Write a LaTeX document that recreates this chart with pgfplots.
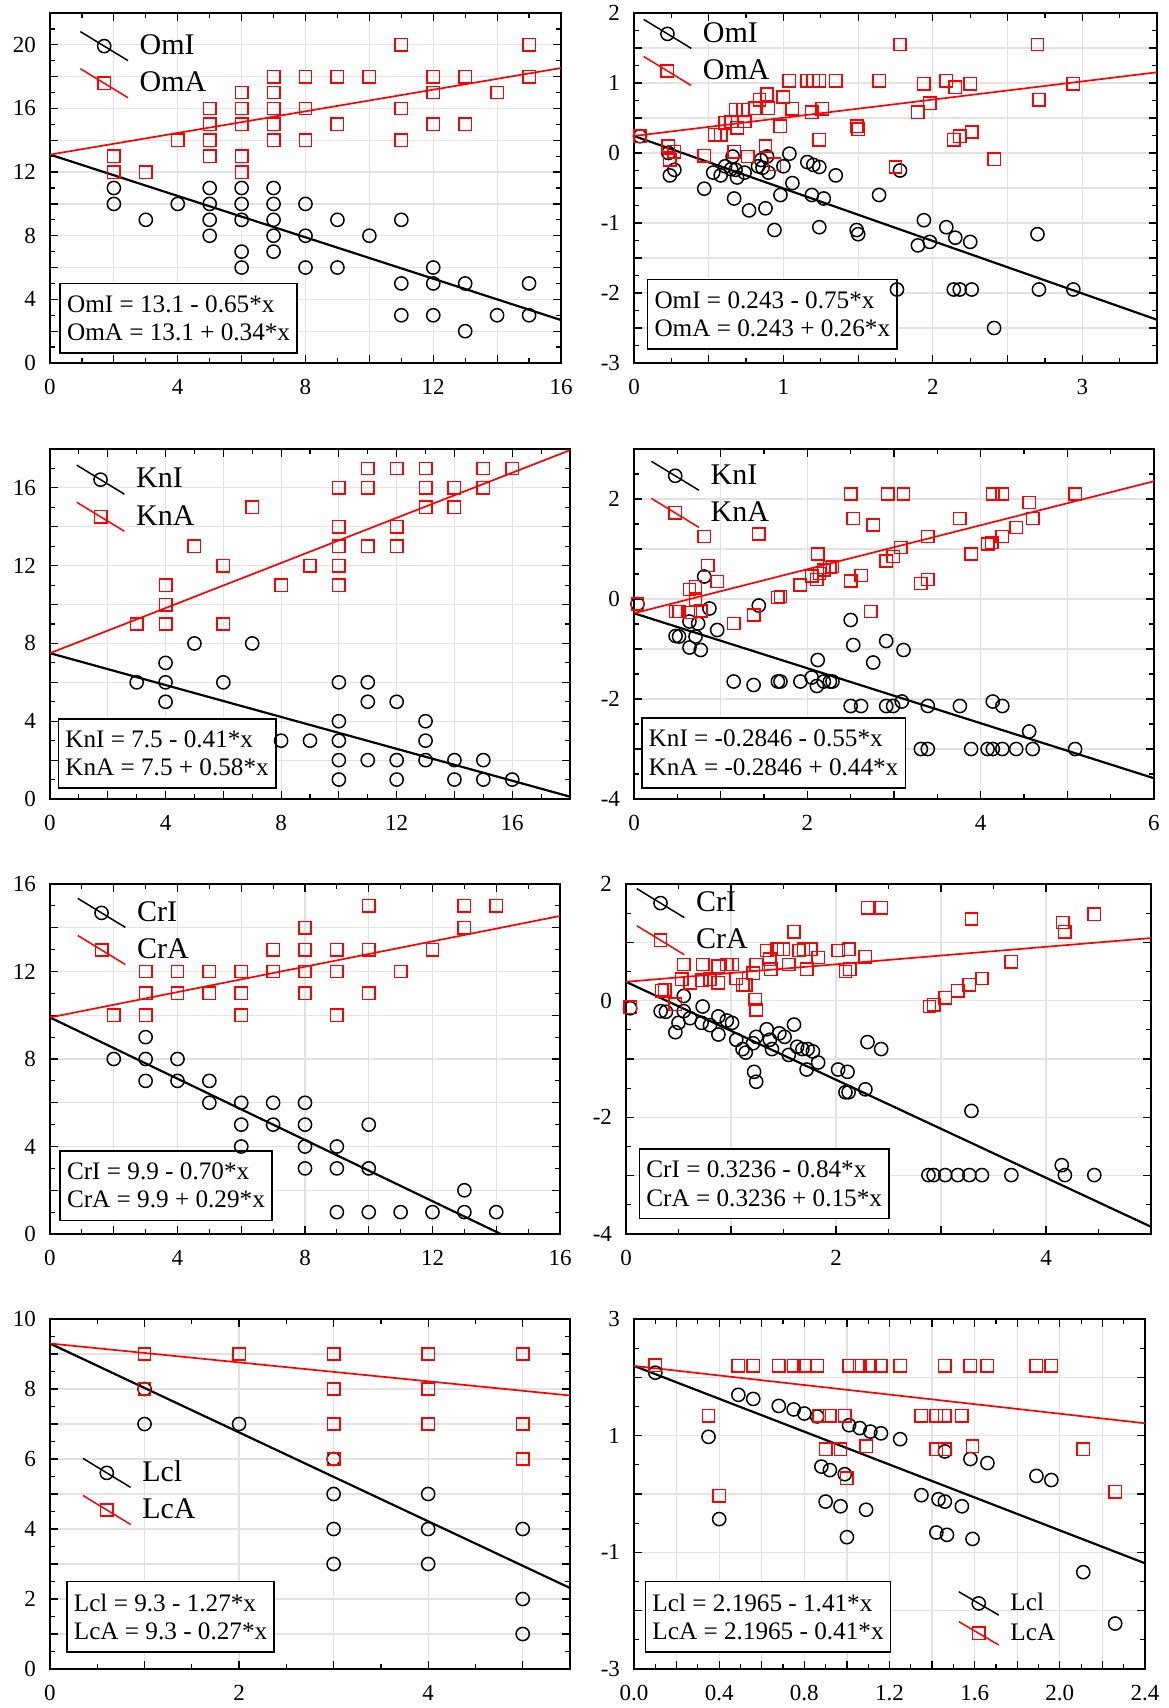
\documentclass[border=0pt]{standalone}
\usepackage{fontspec}
\setmainfont{Liberation Serif}
\usepackage{pgfplots}
\pgfplotsset{compat=1.18}
\definecolor{gridgray}{RGB}{226,226,226}
\tikzset{
  eqbox/.style={draw=black, line width=0.8pt, fill=white, anchor=south west, align=left,
    font=\fontsize{12.6}{14.2}\selectfont, inner xsep=3.5pt, inner ysep=6pt},
}
\pgfplotsset{
  panel/.style={
    scale only axis, height=175pt, anchor=north west,
    axis line style={line width=0.9pt},
    tick align=inside,
    major tick length=4pt, minor tick length=2.5pt,
    every tick/.style={black, line width=0.6pt},
    grid=major, major grid style={gridgray, line width=0.6pt},
    minor tick num=1,
    tick label style={font=\fontsize{11.5}{13}\selectfont},
    xticklabel style={yshift=-4.75pt},
    yticklabel style={xshift=-3.5pt},
    legend cell align=left,
    legend style={draw=none, fill=none, inner sep=0pt, outer sep=0pt,
      anchor=north west, font=\fontsize{15}{17}\selectfont,
      row sep=3.3pt, column sep=4.5pt, nodes={inner sep=1pt, anchor=west}},
    legend image code/.code={\draw[##1, sharp plot, mark repeat=2, mark phase=2] plot coordinates {(0pt,7.25pt) (11.9pt,0pt) (23.8pt,-7.25pt)};},
  },
  smalllegend/.style={
    legend style={font=\fontsize{12.6}{14}\selectfont, row sep=2.5pt},
    legend image code/.code={\draw[##1, sharp plot, mark repeat=2, mark phase=2] plot coordinates {(0pt,5.85pt) (10pt,0pt) (20pt,-5.85pt)};},
  },
  obsI/.style={only marks, mark=o, mark size=3.3pt, black, line width=0.75pt},
  obsA/.style={only marks, mark=square, mark size=3.1pt, red, line width=0.75pt},
  fitI/.style={black, line width=1.1pt, forget plot, no marks},
  fitA/.style={red, line width=0.85pt, forget plot, no marks},
}
\begin{document}
\begin{tikzpicture}
\useasboundingbox (0,0) rectangle (584pt,-854pt);

% ---------------- Panel 1 ----------------
\begin{axis}[panel, at={(25pt,-6.5pt)}, width=255.5pt,
  xmin=0, xmax=16, ymin=0, ymax=22,
  xtick={0,2,...,16}, xticklabels={0,,4,,8,,12,,16},
  ytick={0,2,...,22}, yticklabels={0,,4,,8,,12,,16,,20,},
  legend style={at={(axis description cs:0.058,0.949)}}]
\addplot[obsI] coordinates {(2,11)(2,10)(3,9)(4,10)(5,11)(5,10)(5,9)(5,8)(6,11)(6,10)(6,9)(6,7)(6,6)(7,11)(7,10)(7,9)(7,8)(7,7)(8,10)(8,8)(8,6)(9,9)(9,6)(10,8)(11,9)(11,5)(11,3)(12,6)(12,5)(12,3)(13,5)(13,2)(14,3)(15,5)(15,3)};
\addlegendentry{OmI}
\addplot[obsA] coordinates {(2,13)(2,12)(3,12)(4,14)(5,16)(5,15)(5,14)(5,13)(6,17)(6,16)(6,15)(6,13)(6,12)(7,18)(7,17)(7,16)(7,15)(7,14)(8,18)(8,16)(8,14)(9,18)(9,15)(10,18)(11,20)(11,16)(11,14)(12,18)(12,17)(12,15)(13,18)(13,15)(14,17)(15,20)(15,18)};
\addlegendentry{OmA}
\addplot[fitI] coordinates {(0,13.1)(16,2.7)};
\addplot[fitA] coordinates {(0,13.1)(16,18.54)};
\node[eqbox] at (axis cs:0.29,0.57) {OmI = 13.1 - 0.65*x\\OmA = 13.1 + 0.34*x};
\end{axis}

% ---------------- Panel 2 ----------------
\begin{axis}[panel, at={(317pt,-6.5pt)}, width=261.5pt,
  xmin=0, xmax=3.5, ymin=-3, ymax=2,
  xtick={0,0.5,...,3.5}, xticklabels={0,,1,,2,,3,},
  ytick={-3,-2.5,...,2}, yticklabels={-3,,-2,,-1,,0,,1,,2},
  legend style={at={(axis description cs:0.017,0.984)}}]
\addplot[obsI] coordinates {(0.04,0.24)(0.23,0.0)(0.24,-0.32)(0.27,-0.24)(0.47,-0.51)(0.53,-0.28)(0.58,-0.32)(0.61,-0.19)(0.65,-0.23)(0.66,-0.05)(0.68,-0.24)(0.69,-0.35)(0.74,-0.28)(0.67,-0.65)(0.77,-0.82)(0.83,-0.19)(0.85,-0.10)(0.86,-0.21)(0.89,-0.05)(0.90,-0.28)(0.88,-0.79)(0.94,-1.10)(0.98,-0.60)(1.00,-0.19)(1.04,-0.01)(1.06,-0.43)(1.16,-0.13)(1.20,-0.17)(1.24,-0.20)(1.19,-0.60)(1.27,-0.65)(1.24,-1.06)(1.35,-0.32)(1.49,-1.10)(1.50,-1.16)(1.64,-0.60)(1.78,-0.25)(1.76,-1.95)(1.90,-1.32)(1.94,-0.96)(1.98,-1.27)(2.09,-1.06)(2.15,-1.21)(2.25,-1.27)(2.14,-1.95)(2.18,-1.95)(2.26,-1.95)(2.41,-2.50)(2.70,-1.16)(2.71,-1.95)(2.94,-1.95)};
\addlegendentry{OmI}
\addplot[obsA] coordinates {(0.04,0.24)(0.23,0.10)(0.24,-0.10)(0.27,0.02)(0.47,-0.04)(0.54,0.26)(0.58,0.26)(0.61,0.43)(0.65,0.45)(0.68,0.62)(0.69,0.36)(0.73,0.62)(0.74,0.45)(0.67,0.02)(0.76,-0.05)(0.81,0.64)(0.84,0.76)(0.89,0.84)(0.90,0.64)(0.88,0.10)(0.94,-0.16)(0.98,0.38)(1.00,0.80)(1.04,1.03)(1.06,0.63)(1.16,1.03)(1.20,1.03)(1.24,1.03)(1.19,0.58)(1.26,0.63)(1.24,0.19)(1.35,1.03)(1.49,0.38)(1.50,0.34)(1.64,1.03)(1.78,1.55)(1.75,-0.20)(1.90,0.58)(1.94,0.99)(1.98,0.71)(2.09,1.03)(2.15,0.94)(2.25,0.99)(2.14,0.19)(2.18,0.24)(2.26,0.30)(2.41,-0.09)(2.70,1.55)(2.71,0.76)(2.94,0.99)};
\addlegendentry{OmA}
\addplot[fitI] coordinates {(0,0.243)(3.5,-2.382)};
\addplot[fitA] coordinates {(0,0.243)(3.5,1.153)};
\node[eqbox] at (axis cs:0.085,-2.81) {OmI = 0.243 - 0.75*x\\OmA = 0.243 + 0.26*x};
\end{axis}

% ---------------- Panel 3 ----------------
\begin{axis}[panel, at={(25pt,-224.5pt)}, width=260pt,
  xmin=0, xmax=18, ymin=0, ymax=18,
  xtick={0,2,...,18}, xticklabels={0,,4,,8,,12,,16,},
  ytick={0,2,...,18}, yticklabels={0,,4,,8,,12,,16,},
  legend style={at={(axis description cs:0.05,0.956)}}]
\addplot[obsI] coordinates {(3,6)(4,7)(4,6)(4,5)(5,8)(6,6)(7,8)(8,3)(9,3)(10,6)(10,4)(10,3)(10,2)(10,1)(11,6)(11,5)(11,2)(12,5)(12,2)(12,1)(13,4)(13,3)(13,2)(14,2)(14,1)(15,2)(15,1)(16,1)};
\addlegendentry{KnI}
\addplot[obsA] coordinates {(3,9)(4,11)(4,10)(4,9)(5,13)(6,12)(6,9)(7,15)(8,11)(9,12)(10,16)(10,14)(10,13)(10,12)(10,11)(11,17)(11,16)(11,13)(12,17)(12,14)(12,13)(13,17)(13,16)(13,15)(14,16)(14,15)(15,17)(15,16)(16,17)};
\addlegendentry{KnA}
\addplot[fitI] coordinates {(0,7.5)(18,0.12)};
\addplot[fitA] coordinates {(0,7.5)(18,17.94)};
\node[eqbox] at (axis cs:0.26,0.51) {KnI = 7.5 - 0.41*x\\KnA = 7.5 + 0.58*x};
\end{axis}

% ---------------- Panel 4 ----------------
\begin{axis}[panel, at={(317pt,-224.5pt)}, width=260pt,
  xmin=0, xmax=6, ymin=-4, ymax=3,
  xtick={0,1,...,6}, xticklabels={0,,2,,4,,6},
  ytick={-4,-3,...,3}, yticklabels={-4,,-2,,0,,2,},
  legend style={at={(axis description cs:0.032,0.967)}}]
\addplot[obsI] coordinates {(0.04,-0.10)(0.48,-0.74)(0.52,-0.75)(0.64,-0.45)(0.64,-0.97)(0.71,-0.75)(0.74,-0.49)(0.77,-1.02)(0.81,0.45)(0.87,-0.19)(0.96,-0.62)(1.15,-1.65)(1.38,-1.72)(1.44,-0.13)(1.66,-1.65)(1.69,-1.65)(1.92,-1.65)(2.05,-1.57)(2.11,-1.74)(2.12,-1.22)(2.19,-1.65)(2.26,-1.65)(2.29,-1.65)(2.50,-0.42)(2.53,-0.92)(2.50,-2.14)(2.62,-2.14)(2.76,-1.27)(2.91,-0.84)(2.91,-2.14)(2.99,-2.14)(3.11,-1.02)(3.09,-2.05)(3.31,-3.00)(3.39,-3.00)(3.39,-2.14)(3.76,-2.14)(3.89,-3.00)(4.08,-3.00)(4.14,-3.00)(4.14,-2.05)(4.25,-2.14)(4.25,-3.00)(4.41,-3.00)(4.56,-2.65)(4.60,-3.00)(5.09,-3.00)};
\addlegendentry{KnI}
\addplot[obsA] coordinates {(0.04,-0.10)(0.48,-0.25)(0.52,-0.25)(0.64,0.19)(0.65,-0.27)(0.71,0.25)(0.71,-0.02)(0.77,-0.24)(0.81,1.25)(0.85,0.67)(0.96,0.35)(1.15,-0.49)(1.38,-0.32)(1.44,1.30)(1.66,0.03)(1.69,0.05)(1.92,0.28)(2.05,0.46)(2.11,0.39)(2.12,0.90)(2.14,0.51)(2.19,0.58)(2.26,0.63)(2.29,0.65)(2.50,2.10)(2.53,1.61)(2.50,0.36)(2.62,0.47)(2.73,-0.25)(2.76,1.48)(2.91,0.76)(2.93,2.10)(2.99,0.85)(3.08,1.03)(3.11,2.10)(3.31,0.31)(3.39,0.39)(3.39,1.25)(3.76,1.61)(3.89,0.90)(4.08,1.10)(4.13,1.13)(4.14,2.10)(4.25,2.10)(4.25,1.25)(4.41,1.43)(4.56,1.93)(4.60,1.61)(5.09,2.10)};
\addlegendentry{KnA}
\addplot[fitI] coordinates {(0,-0.2846)(6,-3.5846)};
\addplot[fitA] coordinates {(0,-0.2846)(6,2.3554)};
\node[eqbox] at (axis cs:0.08,-3.79) {KnI = -0.2846 - 0.55*x\\KnA = -0.2846 + 0.44*x};
\end{axis}

% ---------------- Panel 5 ----------------
\begin{axis}[panel, at={(25pt,-442pt)}, width=255pt,
  xmin=0, xmax=16, ymin=0, ymax=16,
  xtick={0,2,...,16}, xticklabels={0,,4,,8,,12,,16},
  ytick={0,2,...,16}, yticklabels={0,,4,,8,,12,,16},
  legend style={at={(axis description cs:0.053,0.961)}}]
\addplot[obsI] coordinates {(2,8)(3,9)(3,8)(3,7)(4,8)(4,7)(5,7)(5,6)(6,6)(6,5)(6,4)(7,6)(7,5)(8,6)(8,5)(8,4)(8,3)(9,4)(9,3)(9,1)(10,5)(10,3)(10,1)(11,1)(12,1)(13,2)(13,1)(14,1)};
\addlegendentry{CrI}
\addplot[obsA] coordinates {(2,10)(3,12)(3,11)(3,10)(4,12)(4,11)(5,12)(5,11)(6,12)(6,11)(6,10)(7,13)(7,12)(8,14)(8,13)(8,12)(8,11)(9,13)(9,12)(9,10)(10,15)(10,13)(10,11)(11,12)(12,13)(13,15)(13,14)(14,15)};
\addlegendentry{CrA}
\addplot[fitI] coordinates {(0,9.9)(16,-1.3)};
\addplot[fitA] coordinates {(0,9.9)(16,14.54)};
\node[eqbox] at (axis cs:0.29,0.59) {CrI = 9.9 - 0.70*x\\CrA = 9.9 + 0.29*x};
\end{axis}

% ---------------- Panel 6 ----------------
\begin{axis}[panel, at={(313pt,-442pt)}, width=262.5pt,
  xmin=0, xmax=5, ymin=-4, ymax=2,
  xtick={0,1,...,5}, xticklabels={0,,2,,4,},
  ytick={-4,-3,...,2}, yticklabels={-4,,-2,,0,,2},
  legend style={at={(axis description cs:0.019,0.989)}}]
\addplot[obsI] coordinates {(0.04,-0.13)(0.33,-0.18)(0.38,-0.19)(0.47,-0.54)(0.50,-0.38)(0.55,0.08)(0.55,-0.18)(0.61,-0.30)(0.72,-0.38)(0.73,-0.10)(0.80,-0.42)(0.88,-0.27)(0.88,-0.58)(0.96,-0.34)(1.01,-0.38)(1.05,-0.67)(1.11,-0.83)(1.14,-0.89)(1.21,-0.73)(1.24,-0.62)(1.22,-1.22)(1.24,-1.39)(1.34,-0.49)(1.37,-0.67)(1.39,-0.83)(1.46,-0.56)(1.51,-0.62)(1.55,-0.93)(1.60,-0.41)(1.63,-0.79)(1.68,-0.83)(1.72,-1.18)(1.73,-0.83)(1.78,-0.87)(1.83,-1.06)(2.02,-1.18)(2.11,-1.22)(2.09,-1.57)(2.12,-1.57)(2.28,-1.52)(2.30,-0.71)(2.43,-0.83)(2.88,-2.99)(2.93,-2.99)(3.04,-2.99)(3.16,-2.99)(3.27,-2.99)(3.39,-2.99)(3.29,-1.89)(3.67,-2.99)(4.15,-2.82)(4.18,-2.99)(4.46,-2.99)};
\addlegendentry{CrI}
\addplot[obsA] coordinates {(0.04,-0.11)(0.34,0.17)(0.37,0.19)(0.47,-0.06)(0.53,0.37)(0.55,0.62)(0.61,0.31)(0.72,0.35)(0.73,0.62)(0.80,0.37)(0.88,0.59)(0.88,0.31)(0.96,0.62)(1.01,0.62)(1.05,0.38)(1.11,0.27)(1.14,0.27)(1.21,0.47)(1.24,0.62)(1.23,0.02)(1.24,-0.16)(1.34,0.86)(1.37,0.71)(1.38,0.54)(1.44,0.88)(1.50,0.88)(1.55,0.62)(1.60,1.18)(1.65,0.86)(1.69,0.88)(1.72,0.54)(1.76,0.88)(1.83,0.74)(2.02,0.86)(2.09,0.50)(2.12,0.88)(2.13,0.54)(2.28,0.75)(2.30,1.59)(2.43,1.59)(2.89,-0.10)(2.93,-0.07)(3.04,0.05)(3.16,0.17)(3.27,0.27)(3.29,1.40)(3.39,0.38)(3.67,0.67)(4.16,1.34)(4.18,1.18)(4.46,1.48)};
\addlegendentry{CrA}
\addplot[fitI] coordinates {(0,0.3236)(5,-3.8764)};
\addplot[fitA] coordinates {(0,0.3236)(5,1.0736)};
\node[eqbox] at (axis cs:0.12,-3.75) {CrI = 0.3236 - 0.84*x\\CrA = 0.3236 + 0.15*x};
\end{axis}

% ---------------- Panel 7 ----------------
\begin{axis}[panel, at={(25pt,-659.5pt)}, width=260pt,
  xmin=0, xmax=5.5, ymin=0, ymax=10,
  xtick={0,1,...,5}, xticklabels={0,,2,,4,},
  ytick={0,1,...,10}, yticklabels={0,,2,,4,,6,,8,,10},
  legend style={at={(axis description cs:0.062,0.604)}}]
\addplot[obsI] coordinates {(1,8)(1,7)(2,7)(3,6)(3,5)(3,4)(3,3)(4,5)(4,4)(4,3)(5,4)(5,2)(5,1)};
\addlegendentry{Lcl}
\addplot[obsA] coordinates {(1,9)(1,8)(2,9)(3,9)(3,8)(3,7)(3,6)(4,9)(4,8)(4,7)(5,9)(5,7)(5,6)};
\addlegendentry{LcA}
\addplot[fitI] coordinates {(0,9.3)(5.5,2.315)};
\addplot[fitA] coordinates {(0,9.3)(5.5,7.815)};
\node[eqbox] at (axis cs:0.17,0.47) {Lcl = 9.3 - 1.27*x\\LcA = 9.3 - 0.27*x};
\end{axis}

% ---------------- Panel 8 ----------------
\begin{axis}[panel, smalllegend, at={(317pt,-659.5pt)}, width=255.5pt,
  xmin=0, xmax=2.4, ymin=-3, ymax=3,
  xtick={0,0.2,0.4,0.6,0.8,1.0,1.2,1.4,1.6,1.8,2.0,2.2,2.4},
  xticklabels={0.0,,0.4,,0.8,,1.2,,1.6,,2.0,,2.4},
  ytick={-3,-2,...,3}, yticklabels={-3,,-1,,1,,3},
  legend style={at={(axis description cs:0.634,0.223)}}]
\addplot[obsI] coordinates {(0.10,2.08)(0.35,0.98)(0.40,-0.43)(0.49,1.70)(0.56,1.63)(0.68,1.51)(0.75,1.45)(0.80,1.38)(0.86,1.33)(0.88,0.47)(0.92,0.41)(0.90,-0.13)(0.97,-0.21)(0.99,0.34)(1.00,-0.74)(1.01,1.18)(1.06,1.13)(1.11,1.07)(1.16,1.04)(1.09,-0.27)(1.25,0.94)(1.35,-0.02)(1.43,-0.09)(1.46,-0.13)(1.54,-0.21)(1.42,-0.66)(1.47,-0.70)(1.46,0.73)(1.58,0.60)(1.59,-0.77)(1.66,0.53)(1.89,0.31)(1.96,0.24)(2.11,-1.34)(2.26,-2.22)};
\addlegendentry{Lcl}
\addplot[obsA] coordinates {(0.10,2.21)(0.35,1.34)(0.40,-0.03)(0.49,2.20)(0.56,2.20)(0.68,2.20)(0.75,2.20)(0.80,2.20)(0.86,2.20)(0.87,1.34)(0.92,1.34)(0.90,0.77)(0.97,0.77)(0.99,1.34)(1.00,0.27)(1.01,2.20)(1.06,2.20)(1.11,2.20)(1.16,2.20)(1.09,0.82)(1.25,2.20)(1.35,1.34)(1.42,1.34)(1.46,1.34)(1.42,0.77)(1.46,0.77)(1.46,2.20)(1.54,1.34)(1.58,2.20)(1.59,0.82)(1.66,2.20)(1.89,2.20)(1.96,2.20)(2.11,0.77)(2.26,0.04)};
\addlegendentry{LcA}
\addplot[fitI] coordinates {(0,2.1965)(2.4,-1.1875)};
\addplot[fitA] coordinates {(0,2.1965)(2.4,1.2125)};
\node[eqbox] at (axis cs:0.05,-2.72) {Lcl = 2.1965 - 1.41*x\\LcA = 2.1965 - 0.41*x};
\end{axis}
\end{tikzpicture}
\end{document}
